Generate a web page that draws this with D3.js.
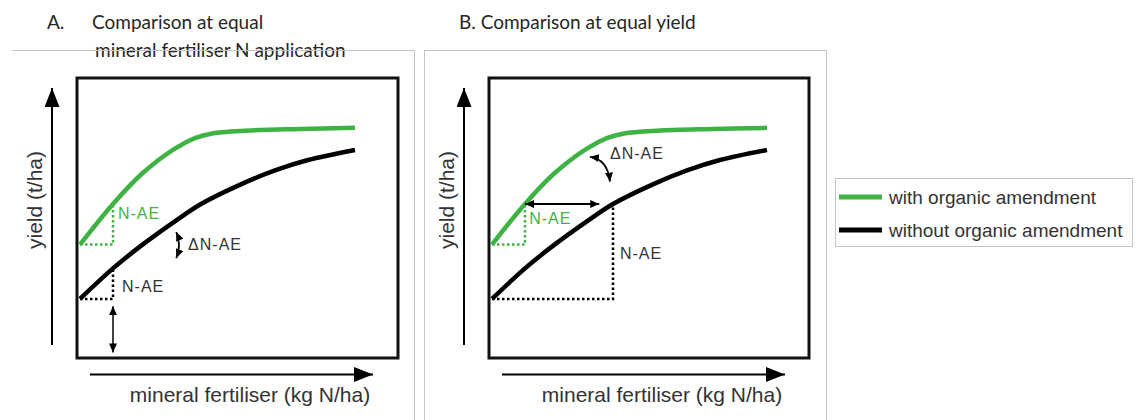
<!DOCTYPE html>
<html>
<head>
<meta charset="utf-8">
<script src="https://cdn.jsdelivr.net/npm/d3@7"></script>
<style>
  body { margin: 0; background: #fff; }
  svg { display: block; }
  .title { font-family: Lato, "Open Sans", sans-serif; font-size: 19px; fill: #262626; }
  .axis-label { font-family: "Liberation Sans", Arial, sans-serif; font-size: 21px; fill: #333; }
  .note { font-family: "Liberation Sans", Arial, sans-serif; font-size: 16px; letter-spacing: 1px; }
  .legend-text { font-family: "Liberation Sans", Arial, sans-serif; font-size: 19px; fill: #333; }
</style>
</head>
<body>
<div id="chart"></div>
<script>

// fertiliser rate (relative units) and yield curves
var fertWith = [0, 12, 22.5, 34.5, 42, 48, 60, 80, 100];
var yieldWith = [4.05, 5.5, 6.58, 7.48, 7.86, 8.02, 8.12, 8.18, 8.22];

var fertWithout = [0, 12, 22.5, 34.5, 44, 58.9, 70.9, 82.9, 100];
var yieldWithout = [2.11, 3.2, 4.03, 4.88, 5.5, 6.22, 6.7, 7.07, 7.43];

// annotation anchors (same units as the curves)
var rateA = 12;          // equal N rate in panel A
var rateEqualYield = 44; // N rate that gives the same yield in panel B
var baseWith = 4.05;
var baseWithout = 2.11;
var equalYield = 5.5;

var seriesNames = ["with organic amendment", "without organic amendment"];
var seriesColors = ["#3fb244", "#000000"];

var green = seriesColors[0];

var width = 1136, height = 420;

var svg = d3.select("#chart")
    .append("svg")
    .attr("width", width)
    .attr("height", height);

// arrow head markers
var defs = svg.append("defs");

function addMarker(id, w, l) {
    defs.append("marker")
        .attr("id", id)
        .attr("markerUnits", "userSpaceOnUse")
        .attr("viewBox", "0 0 " + l + " " + w)
        .attr("refX", l)
        .attr("refY", w / 2)
        .attr("markerWidth", l)
        .attr("markerHeight", w)
        .attr("orient", "auto-start-reverse")
        .append("path")
        .attr("d", "M0,0L" + l + "," + (w / 2) + "L0," + w + "Z")
        .attr("fill", "#000");
}
addMarker("bigHead", 15, 19);
addMarker("smallHead", 8, 9);

// panel layouts (boxes)
var panels = [
    {name: "A", left: 77, top: 78, right: 398, bottom: 358},
    {name: "B", left: 489, top: 78, right: 809, bottom: 358}
];

// titles
svg.append("text").attr("class", "title").attr("x", 47).attr("y", 29).text("A.");
svg.append("text").attr("class", "title").attr("x", 92).attr("y", 29).text("Comparison at equal");
svg.append("text").attr("class", "title").attr("x", 95).attr("y", 57).text("mineral fertiliser N application");
svg.append("text").attr("class", "title").attr("x", 459).attr("y", 29).text("B. Comparison at equal yield");

// grey frames round the panels
svg.append("path")
    .attr("d", "M12,50.5H414.5V420")
    .attr("fill", "none")
    .attr("stroke", "#c4c4c4")
    .attr("stroke-width", 1);

svg.append("rect")
    .attr("x", 424.5).attr("y", 50.5)
    .attr("width", 402).attr("height", 380)
    .attr("fill", "none")
    .attr("stroke", "#c4c4c4")
    .attr("stroke-width", 1);

// draw one panel
function drawPanel(p) {
    var g = svg.append("g");

    var x = d3.scaleLinear().domain([0, 100]).range([p.left + 3, p.left + 278]);
    var y = d3.scaleLinear().domain([0, 10]).range([p.bottom, p.top]);

    // plot box
    g.append("rect")
        .attr("x", p.left).attr("y", p.top)
        .attr("width", p.right - p.left).attr("height", p.bottom - p.top)
        .attr("fill", "none")
        .attr("stroke", "#111")
        .attr("stroke-width", 3);

    // axis arrows
    g.append("line")
        .attr("x1", p.left - 25).attr("y1", p.bottom - 13)
        .attr("x2", p.left - 25).attr("y2", p.top + 10)
        .attr("stroke", "#000").attr("stroke-width", 2)
        .attr("marker-end", "url(#bigHead)");

    g.append("line")
        .attr("x1", p.left + 13).attr("y1", p.bottom + 16.5)
        .attr("x2", p.left + 296).attr("y2", p.bottom + 16.5)
        .attr("stroke", "#000").attr("stroke-width", 2)
        .attr("marker-end", "url(#bigHead)");

    // axis labels
    g.append("text")
        .attr("class", "axis-label")
        .attr("transform", "translate(" + (p.left - 35) + ",200)rotate(-90)")
        .attr("text-anchor", "middle")
        .text("yield (t/ha)");

    g.append("text")
        .attr("class", "axis-label")
        .attr("x", p.left + 173).attr("y", 402)
        .attr("text-anchor", "middle")
        .text("mineral fertiliser (kg N/ha)");

    var line = d3.line()
        .x(d => x(d[0]))
        .y(d => y(d[1]))
        .curve(d3.curveCatmullRom.alpha(0.5));

    var dotted = d3.line().x(d => x(d[0])).y(d => y(d[1]));

    // dotted helper lines
    var blackRate = p.name == "A" ? rateA : rateEqualYield;
    var blackTop = p.name == "A" ? yieldWithout[1] : equalYield;

    g.append("path")
        .attr("d", dotted([[0, baseWith], [rateA, baseWith], [rateA, yieldWith[1]]]))
        .attr("fill", "none").attr("stroke", green)
        .attr("stroke-width", 2.5).attr("stroke-dasharray", "2.5,2.5");

    g.append("path")
        .attr("d", dotted([[0, baseWithout], [blackRate, baseWithout], [blackRate, blackTop]]))
        .attr("fill", "none").attr("stroke", "#000")
        .attr("stroke-width", 2.5).attr("stroke-dasharray", "2.5,2.5");

    // response curves
    g.append("path")
        .datum(d3.zip(fertWithout, yieldWithout))
        .attr("d", line)
        .attr("fill", "none").attr("stroke", seriesColors[1])
        .attr("stroke-width", 4.5);

    g.append("path")
        .datum(d3.zip(fertWith, yieldWith))
        .attr("d", line)
        .attr("fill", "none").attr("stroke", seriesColors[0])
        .attr("stroke-width", 4.5);

    if (p.name == "A") {
        // vertical double arrow under the black dotted line
        g.append("line")
            .attr("x1", x(rateA)).attr("y1", y(1.85))
            .attr("x2", x(rateA)).attr("y2", y(0.2))
            .attr("stroke", "#000").attr("stroke-width", 1.5)
            .attr("marker-start", "url(#smallHead)")
            .attr("marker-end", "url(#smallHead)");

        // curved delta arrow
        g.append("path")
            .attr("d", "M" + x(35) + "," + y(4.5) + "Q" + x(37) + "," + y(4.05) + " " + x(35) + "," + y(3.57))
            .attr("fill", "none").attr("stroke", "#000").attr("stroke-width", 1.8)
            .attr("marker-start", "url(#smallHead)")
            .attr("marker-end", "url(#smallHead)");

        g.append("text").attr("class", "note").attr("fill", green)
            .attr("x", x(13.8)).attr("y", y(5.18)).attr("dy", "0.35em").text("N-AE");
        g.append("text").attr("class", "note").attr("fill", "#333")
            .attr("x", x(15.3)).attr("y", y(2.57)).attr("dy", "0.35em").text("N-AE");
        g.append("text").attr("class", "note").attr("fill", "#333")
            .attr("x", x(39.3)).attr("y", y(4.07)).attr("dy", "0.35em").text("ΔN-AE");
    } else {
        // horizontal double arrow at equal yield
        g.append("line")
            .attr("x1", x(rateA)).attr("y1", y(equalYield))
            .attr("x2", x(39)).attr("y2", y(equalYield))
            .attr("stroke", "#000").attr("stroke-width", 1.8)
            .attr("marker-start", "url(#smallHead)")
            .attr("marker-end", "url(#smallHead)");

        // curved delta arrow
        g.append("path")
            .attr("d", "M" + x(35.6) + "," + y(7.18) + "Q" + x(42) + "," + y(7.1) + " " + x(42.9) + "," + y(6.3))
            .attr("fill", "none").attr("stroke", "#000").attr("stroke-width", 1.8)
            .attr("marker-start", "url(#smallHead)")
            .attr("marker-end", "url(#smallHead)");

        g.append("text").attr("class", "note").attr("fill", green)
            .attr("x", x(13.5)).attr("y", y(5.0)).attr("dy", "0.35em").text("N-AE");
        g.append("text").attr("class", "note").attr("fill", "#333")
            .attr("x", x(46.5)).attr("y", y(3.75)).attr("dy", "0.35em").text("N-AE");
        g.append("text").attr("class", "note").attr("fill", "#333")
            .attr("x", x(42.9)).attr("y", y(7.32)).attr("dy", "0.35em").text("ΔN-AE");
    }
}

panels.forEach(drawPanel);

// legend
var legend = svg.append("g");

legend.append("rect")
    .attr("x", 835.5).attr("y", 178.5)
    .attr("width", 297).attr("height", 68)
    .attr("fill", "#fff")
    .attr("stroke", "#c4c4c4");

seriesNames.forEach(function(name, i) {
    legend.append("line")
        .attr("x1", 839).attr("x2", 882)
        .attr("y1", 197 + i * 33).attr("y2", 197 + i * 33)
        .attr("stroke", seriesColors[i])
        .attr("stroke-width", 5);
    legend.append("text")
        .attr("class", "legend-text")
        .attr("x", 889).attr("y", 197 + i * 33)
        .attr("dy", "0.35em")
        .text(name);
});

</script>
</body>
</html>
